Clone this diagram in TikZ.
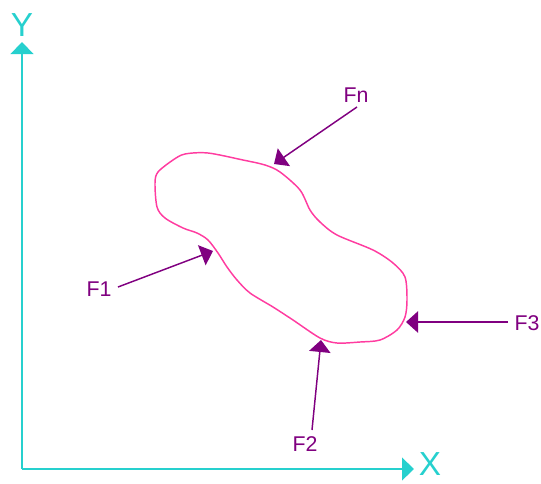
\documentclass[tikz,border=0pt]{standalone}
\usepackage{fontspec}
\setmainfont{Liberation Sans}
\usetikzlibrary{arrows.meta}
\definecolor{axiscol}{RGB}{38,208,206}
\definecolor{blobcol}{RGB}{255,60,160}
\definecolor{forcecol}{RGB}{128,0,128}
\tikzset{
  axisline/.style={draw=axiscol, line width=1.5pt, -{Triangle[length=9pt,width=17pt]}},
  forceline/.style={draw=forcecol, line width=1.1pt, -{Triangle[length=9pt,width=16pt]}},
  axislabel/.style={text=axiscol, font=\fontsize{25}{27}\selectfont, inner sep=0pt},
  forcelabel/.style={text=forcecol, font=\fontsize{16}{18}\selectfont, inner sep=0pt},
  blob/.style={draw=blobcol, line width=1.1pt}
}
\begin{document}
\begin{tikzpicture}[x=0.75pt,y=-0.75pt]
\useasboundingbox (0,0) rectangle (541,483);
% axes
\coordinate (O) at (22,469);
\coordinate (ytip) at (22,42);
\coordinate (xtip) at (414,469);
\draw[axisline] (O) -- (ytip);
\draw[axisline] (O) -- (xtip);
\node[axislabel] (ylab) at (22,25) {Y};
\node[axislabel] (xlab) at (430,464) {X};
% body
\draw[blob] plot[smooth cycle, tension=0.5] coordinates {
 (185,154) (208,153) (243,160) (265,165) (280,172) (300,190) (310,210) (320,222)
 (337,235) (373,250) (393,263) (405,277) (407,300) (405,317) (397,330) (380,340)
 (360,342) (337,343) (320,338) (293,320) (273,307) (250,293) (237,280) (227,267)
 (218,253) (208,240) (197,233) (183,228) (165,218) (157,207) (155,183) (158,172)
 (173,160)};
% forces
\node[forcelabel] (fn) at (356,95) {Fn};
\coordinate (fnS) at (357,107);
\coordinate (fnT) at (274,164);
\draw[forceline] (fnS) -- (fnT);
\node[forcelabel] (f1) at (99,289) {F1};
\coordinate (f1S) at (118,287);
\coordinate (f1T) at (213,251);
\draw[forceline] (f1S) -- (f1T);
\node[forcelabel] (f2) at (305,444) {F2};
\coordinate (f2S) at (312,430);
\coordinate (f2T) at (321,340);
\draw[forceline] (f2S) -- (f2T);
\node[forcelabel] (f3) at (527,323) {F3};
\coordinate (f3S) at (508,322);
\coordinate (f3T) at (406,322);
\draw[forceline] (f3S) -- (f3T);
\end{tikzpicture}
\end{document}
